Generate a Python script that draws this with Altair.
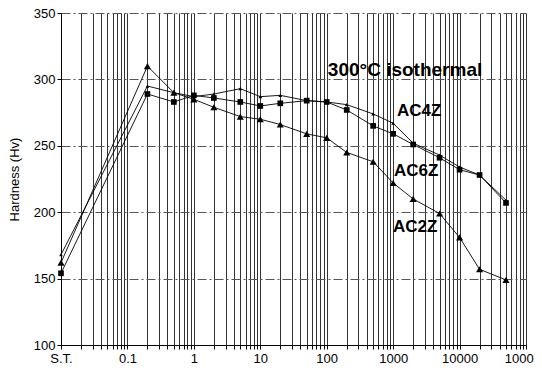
import altair as alt
import pandas as pd

# Aging time (min); S.T. (solution treated) is drawn at the left edge of the log axis
times = [0.01, 0.2, 0.5, 1, 2, 5, 10, 20, 50, 100, 200, 500, 1000, 2000, 5000, 10000, 20000, 50000]
ac6z = [154, 289, 283, 288, 286, 283, 280, 282, 284, 283, 277, 265, 259, 251, 241, 232, 228, 207]
ac4z = [168, 295, 290, 287, 289, 293, 287, 288, 284, 283, 281, 274, 267, 252, 243, 234, 228, 209]
ac2z = [162, 310, 290, 285, 279, 272, 270, 266, 259, 256, 245, 238, 222, 210, 199, 181, 157, 149]

series_names = ["AC4Z", "AC6Z", "AC2Z"]
series_values = [ac4z, ac6z, ac2z]

y_ticks = [100, 150, 200, 250, 300, 350]
x_ticks = [round(k * 10 ** e, 6) for e in range(-2, 5) for k in range(1, 10)] + [100000]

ann_text = ["300°C isothermal", "AC4Z", "AC6Z", "AC2Z"]
ann_x = [104, 1140, 1028, 993]
ann_y = [307, 276, 231, 189]
ann_size = [19, 17, 17, 17]

rows = []
for name, vals in zip(series_names, series_values):
    for t, v in zip(times, vals):
        rows.append({"time": t, "hv": v, "series": name})
df = pd.DataFrame(rows)
ann = pd.DataFrame({"text": ann_text, "x": ann_x, "y": ann_y, "size": ann_size})

label_expr = (
    "datum.value < 0.0105 ? 'S.T.' : "
    "(abs(log(datum.value)/LN10 - round(log(datum.value)/LN10)) < 0.001 ? format(datum.value, '') : '')"
)

xscale = alt.Scale(type="log", domain=[0.01, 100000], nice=False)
yscale = alt.Scale(domain=[100, 350], nice=False, zero=False)

xaxis = alt.Axis(
    values=x_ticks, labelExpr=label_expr, title="Aging Time (min)",
    grid=True, gridColor="#000000", gridWidth=1, gridOpacity=0.8,
    tickSize=4, tickColor="black", domainColor="black", labelPadding=3,
    labelOverlap=False, labelFlush=False, labelFontSize=13, labelColor="black",
    titleFontSize=13, titleFontWeight="normal", titleColor="black",
    titleY=355, titleBaseline="middle",
)
yaxis = alt.Axis(
    values=y_ticks, title="Hardness (Hv)",
    grid=True, gridColor="#555555", gridDash=[9, 3, 2, 3], gridWidth=1,
    tickSize=4, tickColor="black", domainColor="black", labelPadding=2,
    labelFontSize=13, labelColor="black",
    titleFontSize=13, titleFontWeight="normal", titleColor="black",
    titleX=-47, titleY=166, titleAngle=-90, titleAlign="center", titleBaseline="middle",
)

base = alt.Chart(df).encode(
    x=alt.X("time:Q", scale=xscale, axis=xaxis),
    y=alt.Y("hv:Q", scale=yscale, axis=yaxis),
)

lines = base.mark_line(color="black", strokeWidth=0.9).encode(detail="series:N")
points = base.mark_point(filled=True, color="black", opacity=1).encode(
    shape=alt.Shape("series:N", scale=alt.Scale(domain=series_names,
                                                 range=["triangle-up", "square", "triangle-up"]),
                    legend=None),
    size=alt.Size("series:N", scale=alt.Scale(domain=series_names, range=[14, 50, 32]),
                  legend=None),
)

texts = alt.Chart(ann).mark_text(
    align="left", baseline="middle", fontWeight="bold",
    font="Liberation Sans", color="black",
).encode(
    x=alt.X("x:Q", scale=xscale),
    y=alt.Y("y:Q", scale=yscale),
    text="text:N",
    size=alt.Size("size:Q", scale=None, legend=None),
)

chart = alt.layer(lines, points, texts).properties(
    width=465, height=332,
    padding={"left": 53, "top": 5, "right": 8, "bottom": 28},
    autosize=alt.AutoSizeParams(type="none"),
).configure(
    font="Liberation Sans",
).configure_view(
    strokeWidth=0,
)

chart.save("out.html", embed_options={"renderer": "svg", "actions": False})
